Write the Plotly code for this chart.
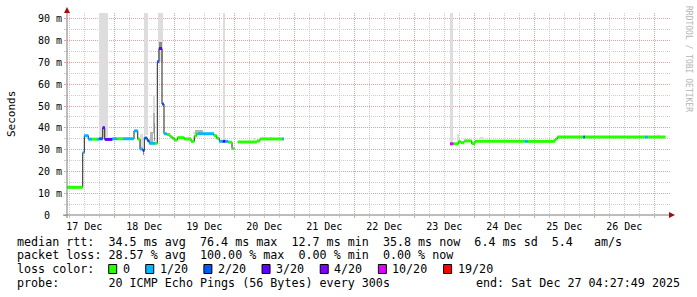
import plotly.graph_objects as go
import pandas as pd

# ---------------- data ----------------
# median rtt steps: start of step, median (ms), lost pings of 20 ; None = no data
step_time = [
    "2025-12-17 05:00", "2025-12-17 11:22", "2025-12-17 12:00", "2025-12-17 13:36", "2025-12-17 15:05",
    "2025-12-17 17:05", "2025-12-17 18:00", "2025-12-17 19:22", "2025-12-17 20:10", "2025-12-17 23:12",
    "2025-12-18 01:12", "2025-12-18 03:36", "2025-12-18 07:53", "2025-12-18 09:22", "2025-12-18 10:17",
    "2025-12-18 11:22", "2025-12-18 12:00", "2025-12-18 13:12", "2025-12-18 14:00", "2025-12-18 16:17",
    "2025-12-18 17:12", "2025-12-18 17:53", "2025-12-18 19:05", "2025-12-18 19:53", "2025-12-18 20:58",
    "2025-12-18 22:17", "2025-12-18 23:12", "2025-12-19 00:00", "2025-12-19 01:12", "2025-12-19 04:00",
    "2025-12-19 06:41", "2025-12-19 08:00", "2025-12-19 08:58", "2025-12-19 09:29", "2025-12-19 15:53",
    "2025-12-19 16:58", "2025-12-19 18:00", "2025-12-19 19:22", "2025-12-19 20:24", "2025-12-19 21:36",
    "2025-12-19 23:05", "2025-12-20 00:00", "2025-12-20 01:22", "2025-12-20 09:05", "2025-12-20 10:17",
    "2025-12-20 19:12", "2025-12-20 19:53",
    "2025-12-23 14:17", "2025-12-23 15:36", "2025-12-23 17:46", "2025-12-23 18:34", "2025-12-23 19:53",
    "2025-12-23 22:58", "2025-12-24 00:17", "2025-12-24 20:17", "2025-12-24 21:22", "2025-12-25 08:17",
    "2025-12-25 09:12", "2025-12-25 19:36", "2025-12-25 20:17", "2025-12-26 20:17", "2025-12-26 21:22",
    "2025-12-27 04:25",
]
median_ms = [
    12.7, 28.6, 36.4, 34.8, 34.8,
    34.8, 35.0, 40.1, 34.7, 35.0,
    35.0, 35.0, 38.6, 34.8, 30.3,
    29.6, 35.3, 34.1, 32.9, 32.9,
    70.4, 76.4, 50.9, 37.3, 36.9,
    35.9, 35.2, 34.4, 35.5, 34.9,
    33.8, 36.3, 37.3, 37.3, 36.4,
    35.2, 33.8, 33.8, 33.8, 33.4,
    30.5, None, 33.5, 34.0, 34.9,
    34.9, None,
    32.7, 32.7, 33.7, 33.2, 34.0,
    32.8, 33.8, 33.8, 33.8, 34.8,
    35.8, 35.8, 35.8, 35.8, 35.8,
    None,
]
lost = [
    0, 1, 1, 1, 0,
    1, 2, 3, 3, 1,
    0, 1, 1, 0, 1,
    4, 2, 2, 1, 0,
    2, 3, 2, 1, 0,
    0, 0, 0, 0, 0,
    0, 0, 0, 1, 0,
    0, 1, 3, 1, 0,
    0, 0, 0, 0, 0,
    1, 0,
    10, 0, 0, 0, 0,
    0, 0, 1, 0, 0,
    0, 2, 0, 1, 0,
    0,
]

# smoke (spread of the 20 pings): start, end, low, high (ms), density level
smoke_start = ["2025-12-17 18:00", "2025-12-18 12:00", "2025-12-18 17:17", "2025-12-18 15:22", "2025-12-18 10:17",
               "2025-12-19 19:22", "2025-12-23 14:17", "2025-12-23 17:00", "2025-12-24 02:17", "2025-12-20 07:22",
               "2025-12-20 14:10", "2025-12-27 01:05", "2025-12-19 07:40",
               "2025-12-18 15:22", "2025-12-18 14:17", "2025-12-19 08:17",
               "2025-12-18 17:53", "2025-12-18 15:50", "2025-12-18 11:22"]
smoke_end = ["2025-12-17 21:22", "2025-12-18 13:22", "2025-12-18 19:24", "2025-12-18 16:24", "2025-12-18 11:29",
             "2025-12-19 20:17", "2025-12-23 15:22", "2025-12-23 17:48", "2025-12-24 03:29", "2025-12-20 08:10",
             "2025-12-20 15:00", "2025-12-27 02:17", "2025-12-19 08:17",
             "2025-12-18 16:24", "2025-12-18 15:22", "2025-12-19 11:22",
             "2025-12-18 19:05", "2025-12-18 16:24", "2025-12-18 12:00"]
smoke_low = [36.0, 36.5, 70.0, 37.0, 30.0, 34.0, 33.5, 33.7, 34.8, 34.4, 34.9, 36.0, 37.0,
             37.6, 33.0, 37.3, 76.5, 34.0, 27.5]
smoke_high = [93, 93, 93, 54.6, 37.0, 93, 93, 37.2, 35.9, 35.3, 35.6, 36.9, 38.0,
              47.0, 38.0, 38.8, 79.5, 42.0, 30.0]
smoke_level = [1, 1, 1, 1, 1, 1, 1, 1, 1, 1, 1, 1, 1,
               2, 2, 2, 3, 3, 3]

loss_lower = [0, 1, 2, 3, 4, 10, 19]
loss_labels = ["0", "1/20", "2/20", "3/20", "4/20", "10/20", "19/20"]

y_ticks = [0, 10, 20, 30, 40, 50, 60, 70, 80, 90]
y_ticktext = ["0\u00a0\u00a0"] + [f"{v} m" for v in y_ticks[1:]]

legend_lines = [
    "median rtt:  34.5 ms avg  76.4 ms max  12.7 ms min  35.8 ms now  6.4 ms sd  5.4   am/s",
    "packet loss: 28.57 % avg  100.00 % max  0.00 % min  0.00 % now",
    "loss color:",
    "probe:       20 ICMP Echo Pings (56 Bytes) every 300s",
]
end_text = "end: Sat Dec 27 04:27:49 2025"

# ---------------- styles ----------------
W, H = 697, 297
PL, PR, PT, PB = 67, 670, 13, 215
FONT = "DejaVu Sans Mono"
loss_colors = ["#26ff00", "#00b8ff", "#0059ff", "#5e00ff", "#7e00ff", "#dd00ff", "#ff0000"]
smoke_colors = {1: "#dddddd", 2: "#b4b4b4", 3: "#8c8c8c"}
MGRID = "#eea0a0"
GRID = "#cdcdcd"
AXIS = "#7a7a7a"
ARROW = "#9a1010"


def px2x(px):
    return (px - PL) / (PR - PL)


def py2y(py):
    return (PB - py) / (PB - PT)


def bin_of(n):
    b = 0
    for i, lo in enumerate(loss_lower):
        if n >= lo:
            b = i
    return b


t = pd.to_datetime(step_time)
fig = go.Figure()

# smoke
s0 = pd.to_datetime(smoke_start)
s1 = pd.to_datetime(smoke_end)
order = sorted(range(len(smoke_level)), key=lambda i: smoke_level[i])
fig.add_trace(go.Bar(
    x=[s0[i] + (s1[i] - s0[i]) / 2 for i in order],
    y=[smoke_high[i] - smoke_low[i] for i in order],
    base=[smoke_low[i] for i in order],
    width=[(s1[i] - s0[i]).total_seconds() * 1000 for i in order],
    marker=dict(color=[smoke_colors[smoke_level[i]] for i in order], line=dict(width=0)),
    hoverinfo="skip", showlegend=False,
))

# black median step line
bx, by = [], []
for i in range(len(median_ms) - 1):
    v = median_ms[i]
    if v is None:
        continue
    bx += [t[i], t[i + 1]]
    by += [v, v]
    if median_ms[i + 1] is None:
        bx.append(None)
        by.append(None)
fig.add_trace(go.Scatter(x=bx, y=by, mode="lines", line=dict(color="#202020", width=1),
                         hoverinfo="skip", showlegend=False))

# coloured loss segments
for b, col in enumerate(loss_colors):
    cx, cy = [], []
    for i in range(len(median_ms) - 1):
        v = median_ms[i]
        if v is None or bin_of(lost[i]) != b:
            continue
        cx += [t[i], t[i + 1], None]
        cy += [v, v, None]
    if cx:
        fig.add_trace(go.Scatter(x=cx, y=cy, mode="lines", line=dict(color=col, width=3),
                                 hoverinfo="skip", showlegend=False))

x0 = pd.Timestamp("2025-12-18 00:00") - pd.Timedelta(minutes=(114.3 - PL) * 24)
x1 = pd.Timestamp("2025-12-18 00:00") + pd.Timedelta(minutes=(PR - 114.3) * 24)

fig.update_layout(
    width=W, height=H,
    margin=dict(l=PL, r=W - PR, t=PT, b=H - PB, pad=0),
    paper_bgcolor="white", plot_bgcolor="white",
    barmode="overlay", bargap=0,
    font=dict(family=FONT, size=10, color="black"),
    showlegend=False,
    xaxis=dict(
        type="date", range=[x0, x1], fixedrange=True,
        tickmode="linear", tick0="2025-12-17", dtick=86400000,
        ticklabelmode="period", tickformat="%d %b",
        showgrid=True, gridcolor=MGRID, griddash="1px,1px", gridwidth=1,
        ticks="outside", ticklen=2, tickcolor=MGRID,
        tickfont=dict(family=FONT, size=10, color="black"),
        minor=dict(tick0="2025-12-17", dtick=6 * 3600000, showgrid=True, gridcolor=GRID,
                   griddash="1px,1px", ticks="outside", ticklen=2, tickcolor=GRID),
        showline=False, zeroline=False,
    ),
    yaxis=dict(
        range=[0, (PB - PT) / 2.179], fixedrange=True,
        tickmode="array", tickvals=y_ticks, ticktext=y_ticktext,
        showgrid=True, gridcolor=MGRID, griddash="1px,1px", gridwidth=1,
        ticks="outside", ticklen=2, tickcolor=MGRID,
        tickfont=dict(family=FONT, size=10, color="black"),
        minor=dict(tick0=0, dtick=5, showgrid=True, gridcolor=GRID, griddash="1px,1px",
                   ticks="outside", ticklen=2, tickcolor=GRID),
        showline=False, zeroline=False,
    ),
)

shapes = [
    dict(type="line", xref="paper", yref="paper", x0=px2x(PL), x1=px2x(PL), y0=py2y(10), y1=py2y(218),
         line=dict(color=AXIS, width=1)),
    dict(type="line", xref="paper", yref="paper", x0=px2x(63), x1=px2x(PR), y0=0, y1=0,
         line=dict(color=AXIS, width=1)),
    dict(type="path", xref="paper", yref="paper", xsizemode="pixel", ysizemode="pixel",
         xanchor=0, yanchor=1, path="M-3,0 L3,0 L0,6 Z", fillcolor=ARROW, line=dict(width=0)),
    dict(type="path", xref="paper", yref="paper", xsizemode="pixel", ysizemode="pixel",
         xanchor=1, yanchor=0, path="M-1,-3 L-1,3 L5,0 Z", fillcolor=ARROW, line=dict(width=0)),
]

ann = [
    dict(text="Seconds", x=px2x(11), y=py2y(114), textangle=-90, font=dict(size=11),
         xanchor="center", yanchor="middle"),
    dict(text="RRDTOOL / TOBI OETIKER", x=px2x(688), y=py2y(59), textangle=90,
         font=dict(size=8, color="#b4b4b4"), xanchor="center", yanchor="middle"),
]
LEG_FS = 11.7
CW = 7.04
line_y = [241.6, 255.3, 269.0, 282.7]
for txt, ly in zip(legend_lines, line_y):
    ann.append(dict(text=txt.replace(" ", "\u00a0"), x=px2x(15), y=py2y(ly), xanchor="left",
                    yanchor="middle", font=dict(size=LEG_FS)))
ann.append(dict(text=end_text.replace(" ", "\u00a0"), x=px2x(682), y=py2y(line_y[3]), xanchor="right",
                yanchor="middle", font=dict(size=LEG_FS)))

bx0 = 108.7
for lab, col in zip(loss_labels, loss_colors):
    shapes.append(dict(type="rect", xref="paper", yref="paper", x0=px2x(bx0), x1=px2x(bx0 + 8),
                       y0=py2y(273.5), y1=py2y(264.5), fillcolor=col, line=dict(color="black", width=1)))
    lx = bx0 + 13
    ann.append(dict(text=lab, x=px2x(lx - 1), y=py2y(line_y[2]), xanchor="left", yanchor="middle",
                    font=dict(size=LEG_FS)))
    bx0 = lx + CW * len(lab) + 17

for a in ann:
    a.setdefault("xref", "paper")
    a.setdefault("yref", "paper")
    a["showarrow"] = False
fig.update_layout(shapes=shapes, annotations=ann)

fig.write_html("out.html", config={"displayModeBar": False, "staticPlot": True})
